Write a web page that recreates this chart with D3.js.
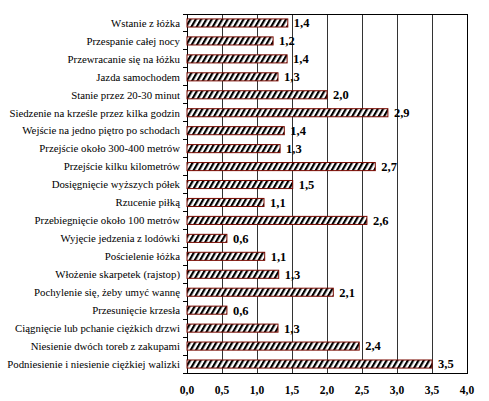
<!DOCTYPE html>
<html>
<head>
<meta charset="utf-8">
<script src="https://cdn.jsdelivr.net/npm/d3@7"></script>
<style>
  body { margin: 0; background: #fff; }
  svg { display: block; }
  text { font-family: 'Liberation Serif', 'Times New Roman', 'DejaVu Serif', serif; }
</style>
</head>
<body>
<svg id="chart" width="489" height="401"></svg>
<script>
    const categories = [
        'Wstanie z łóżka',
        'Przespanie całej nocy',
        'Przewracanie się na łóżku',
        'Jazda samochodem',
        'Stanie przez 20-30 minut',
        'Siedzenie na krześle przez kilka godzin',
        'Wejście na jedno piętro po schodach',
        'Przejście około 300-400 metrów',
        'Przejście kilku kilometrów',
        'Dosięgnięcie wyższych półek',
        'Rzucenie piłką',
        'Przebiegnięcie około 100 metrów',
        'Wyjęcie jedzenia z lodówki',
        'Pościelenie łóżka',
        'Włożenie skarpetek (rajstop)',
        'Pochylenie się, żeby umyć wannę',
        'Przesunięcie krzesła',
        'Ciągnięcie lub pchanie ciężkich drzwi',
        'Niesienie dwóch toreb z zakupami',
        'Podniesienie i niesienie ciężkiej walizki'
    ];
    const values = [1.44, 1.23, 1.43, 1.3, 2.0, 2.87, 1.39, 1.33, 2.69, 1.51,
                    1.1, 2.57, 0.57, 1.11, 1.31, 2.09, 0.57, 1.3, 2.46, 3.5];
    const valueLabels = ['1,4', '1,2', '1,4', '1,3', '2,0', '2,9', '1,4', '1,3', '2,7', '1,5',
                         '1,1', '2,6', '0,6', '1,1', '1,3', '2,1', '0,6', '1,3', '2,4', '3,5'];
    const tickValues = [0, 0.5, 1, 1.5, 2, 2.5, 3, 3.5, 4];

    const svg = d3.select('#chart');
    const margin = {top: 14, left: 187, right: 22, bottom: 28};
    const width = 489 - margin.left - margin.right;
    const height = 401 - margin.top - margin.bottom;

    // hatch fill for the bars
    const defs = svg.append('defs');
    const pat = defs.append('pattern')
        .attr('id', 'hatch')
        .attr('patternUnits', 'userSpaceOnUse')
        .attr('width', 4.6)
        .attr('height', 10)
        .attr('patternTransform', 'rotate(30)');
    pat.append('rect').attr('width', 4.6).attr('height', 10).attr('fill', '#fff');
    pat.append('rect').attr('width', 2.2).attr('height', 10).attr('fill', '#000');

    const g = svg.append('g').attr('transform', `translate(${margin.left}, ${margin.top})`);

    const x = d3.scaleLinear().domain([0, 4]).range([0, width]);
    const y = d3.scaleBand().domain(categories).range([0, height]).paddingInner(0.55).paddingOuter(0.275);

    // vertical grid
    g.append('g')
        .selectAll('line')
        .data(tickValues.slice(1, -1))
        .join('line')
        .attr('x1', d => x(d)).attr('x2', d => x(d))
        .attr('y1', 0).attr('y2', height)
        .attr('stroke', '#333')
        .attr('stroke-width', 1)
        .attr('shape-rendering', 'crispEdges');

    // plot border
    g.append('rect')
        .attr('width', width).attr('height', height)
        .attr('fill', 'none')
        .attr('stroke', '#000')
        .attr('stroke-width', 1)
        .attr('shape-rendering', 'crispEdges');

    // left ticks at band boundaries
    const step = y.step();
    g.append('g')
        .selectAll('line')
        .data(d3.range(categories.length + 1))
        .join('line')
        .attr('x1', -4).attr('x2', 0)
        .attr('y1', i => i * step)
        .attr('y2', i => i * step)
        .attr('stroke', '#000')
        .attr('shape-rendering', 'crispEdges');

    // bars
    g.append('g')
        .selectAll('rect')
        .data(values)
        .join('rect')
        .attr('x', x(0))
        .attr('y', (d, i) => y(categories[i]))
        .attr('width', d => x(d) - x(0))
        .attr('height', y.bandwidth())
        .attr('fill', 'url(#hatch)')
        .attr('stroke', '#7a0a00')
        .attr('stroke-width', 1);

    // value labels
    g.append('g')
        .selectAll('text')
        .data(values)
        .join('text')
        .attr('x', d => x(d) + 6)
        .attr('y', (d, i) => y(categories[i]) + y.bandwidth() / 2)
        .attr('dy', '0.35em')
        .style('font-size', '12.5px')
        .style('font-weight', 'bold')
        .text((d, i) => valueLabels[i]);

    // category labels
    g.append('g')
        .selectAll('text')
        .data(categories)
        .join('text')
        .attr('x', -7)
        .attr('y', d => y(d) + y.bandwidth() / 2)
        .attr('dy', '0.35em')
        .attr('text-anchor', 'end')
        .style('font-size', '10.8px')
        .text(d => d);

    // x tick labels
    g.append('g')
        .selectAll('text')
        .data(tickValues)
        .join('text')
        .attr('x', d => x(d))
        .attr('y', height + 21)
        .attr('text-anchor', 'middle')
        .style('font-size', '11.5px')
        .style('font-weight', 'bold')
        .text(d => d3.format('.1f')(d).replace('.', ','));
</script>
</body>
</html>
